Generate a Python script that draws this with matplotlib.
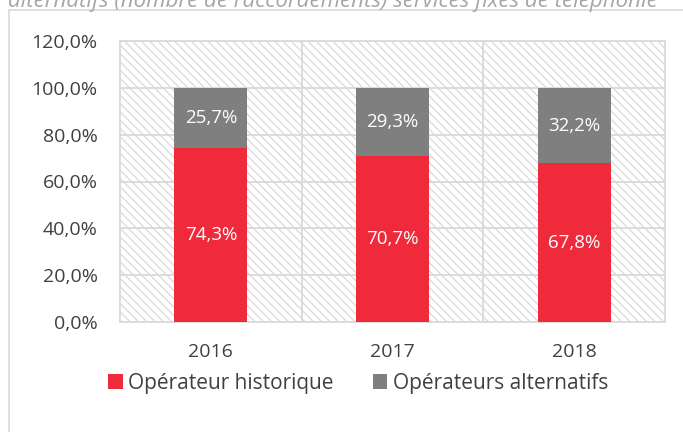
import matplotlib
matplotlib.use("Agg")
import matplotlib.pyplot as plt
from matplotlib.patches import Rectangle
from matplotlib.ticker import FuncFormatter, MultipleLocator

plt.rcParams['font.family'] = ['Open Sans', 'DejaVu Sans']
plt.rcParams['hatch.color'] = '#D9D9D9'
plt.rcParams['hatch.linewidth'] = 0.9

years = ['2016', '2017', '2018']
historique = [74.3, 70.7, 67.8]
alternatifs = [25.7, 29.3, 32.2]
series_names = ['Opérateur historique', 'Opérateurs alternatifs']
title_text = "alternatifs (nombre de raccordements) services fixes de téléphonie"

RED = '#EE2A3B'
GREY = '#7F7F7F'
TXT = '#404040'

W, H = 683, 432
fig = plt.figure(figsize=(W / 100, H / 100), dpi=100)

# outer frame
fig.patches.append(Rectangle((8.5 / W, -0.1), 1.2, 1.1 - 10.5 / H,
                             transform=fig.transFigure, fill=False,
                             edgecolor='#D9D9D9', linewidth=1.2))
fig.text(8 / W, 1 - 7 / H, title_text, ha='left', va='baseline',
         fontsize=16, style='italic', color='#A6A6A6')

ax = fig.add_axes([120 / W, 1 - 322 / H, (665 - 120) / W, (322 - 41) / H])
x = list(range(len(years)))
ax.set_xlim(-0.5, len(years) - 0.5)
ax.set_ylim(0, 120)

# hatched background
ax.add_patch(Rectangle((0, 0), 1, 1, transform=ax.transAxes, facecolor='white',
                       hatch='\\\\\\\\', edgecolor='#D9D9D9', linewidth=0, zorder=0))

ax.yaxis.set_major_locator(MultipleLocator(20))
ax.grid(axis='y', color='#D9D9D9', linewidth=1.3, zorder=1)
for b in [0.5, 1.5]:
    ax.axvline(b, color='#D9D9D9', linewidth=1.3, zorder=1)
for s in ax.spines.values():
    s.set_color('#D9D9D9')
    s.set_linewidth(1.3)

b1 = ax.bar(x, historique, width=0.4, color=RED, zorder=3, label=series_names[0])
b2 = ax.bar(x, alternatifs, width=0.4, bottom=historique, color=GREY, zorder=3,
            label=series_names[1])

fmt = lambda v: f"{v:.1f}".replace('.', ',') + '%'
for i, (h, a) in enumerate(zip(historique, alternatifs)):
    ax.text(i, h / 2, fmt(h), ha='center', va='center', color='white', fontsize=13.5, zorder=4)
    ax.text(i, h + a / 2, fmt(a), ha='center', va='center', color='white', fontsize=13.5, zorder=4)

ax.yaxis.set_major_formatter(FuncFormatter(lambda v, p: fmt(v)))
ax.set_xticks(x)
ax.set_xticklabels(years)
ax.tick_params(axis='both', length=0, labelsize=14, colors=TXT)
ax.tick_params(axis='y', pad=16)
ax.tick_params(axis='x', pad=15)

leg = fig.legend(handles=[b1, b2], labels=series_names, loc='center',
                 bbox_to_anchor=(358 / W, 1 - 383 / H), ncol=2, frameon=False,
                 fontsize=15, handlelength=0.7, handleheight=0.7,
                 handletextpad=0.25, columnspacing=1.9)
for t in leg.get_texts():
    t.set_color(TXT)

fig.savefig('out.png', dpi=100)
